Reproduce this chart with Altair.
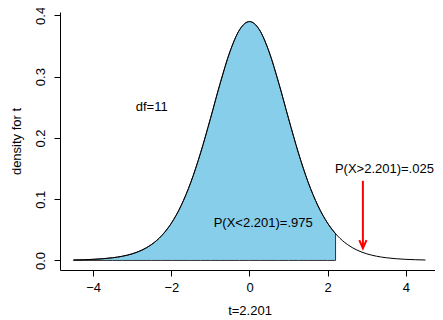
import altair as alt
import pandas as pd

# t-distribution (df = 11) density read at steps of 0.25
t_vals = [-4.5, -4.25, -4.0, -3.75, -3.5, -3.25, -3.0, -2.75, -2.5, -2.25, -2.0, -1.75,
          -1.5, -1.25, -1.0, -0.75, -0.5, -0.25, 0.0, 0.25, 0.5, 0.75, 1.0, 1.25, 1.5,
          1.75, 2.0, 2.25, 2.5, 2.75, 3.0, 3.25, 3.5, 3.75, 4.0, 4.25, 4.5]
dens = [0.00074, 0.00115, 0.00178, 0.00279, 0.00438, 0.00688, 0.01080, 0.01689, 0.02622,
        0.04023, 0.06065, 0.08934, 0.12768, 0.17578, 0.23138, 0.28914, 0.34081, 0.37696,
        0.39000, 0.37696, 0.34081, 0.28914, 0.23138, 0.17578, 0.12768, 0.08934, 0.06065,
        0.04023, 0.02622, 0.01689, 0.01080, 0.00688, 0.00438, 0.00279, 0.00178, 0.00115,
        0.00074]
cutoff_t = 2.201
cutoff_d = 0.04367

label_x = [-2.5, 0.35, 3.45]
label_y = [0.25, 0.0614, 0.15]
label_text = ["df=11", "P(X<2.201)=.975", "P(X>2.201)=.025"]

arrow_x = [2.9]
arrow_from = [0.13]
arrow_to = [0.02]

x_ticks = [-4, -2, 0, 2, 4]
y_ticks = [0.0, 0.1, 0.2, 0.3, 0.4]

curve = pd.DataFrame({"t": t_vals, "d": dens})
shade = pd.DataFrame({
    "t": [t for t in t_vals if t < cutoff_t] + [cutoff_t],
    "d": [d for t, d in zip(t_vals, dens) if t < cutoff_t] + [cutoff_d],
})
shade["base"] = 0.0
labels = pd.DataFrame({"x": label_x, "y": label_y, "text": label_text})
arrow = pd.DataFrame({"x": arrow_x, "y": arrow_from, "y2": arrow_to})

FONT = "Liberation Sans"
FS = 13
xs = alt.Scale(domain=[-4.846, 4.744], nice=False, zero=False)
ys = alt.Scale(domain=[-0.0156, 0.4056], nice=False, zero=False)

xaxis = alt.Axis(values=x_ticks, format="d", title="t=2.201", grid=False,
                 tickSize=6, labelPadding=11, labelBaseline="middle",
                 labelFontSize=FS, titleFontSize=FS, titleFontWeight="normal",
                 titleBaseline="middle", titleY=40, titleX=189.5, domainColor="black",
                 tickColor="black", labelColor="black", titleColor="black")
yaxis = alt.Axis(values=y_ticks, format=".1f", title="density for t", grid=False,
                 tickSize=6, labelPadding=14, labelAngle=270, labelAlign="center",
                 labelBaseline="middle", labelFontSize=FS, titleFontSize=FS,
                 titleFontWeight="normal", titleBaseline="middle", titleX=-44,
                 titleAngle=270, domainColor="black", tickColor="black",
                 labelColor="black", titleColor="black")

area = alt.Chart(shade).mark_area(
    fill="#87CEEB", stroke="#333333", strokeWidth=1, interpolate="monotone"
).encode(
    x=alt.X("t:Q", scale=xs, axis=xaxis),
    y=alt.Y("d:Q", scale=ys, axis=yaxis),
    y2="base:Q",
)

line = alt.Chart(curve).mark_line(color="black", strokeWidth=1, interpolate="monotone").encode(
    x=alt.X("t:Q", scale=xs),
    y=alt.Y("d:Q", scale=ys),
)

text = alt.Chart(labels).mark_text(fontSize=FS, font=FONT, align="center",
                                   baseline="middle", color="black").encode(
    x=alt.X("x:Q", scale=xs),
    y=alt.Y("y:Q", scale=ys),
    text="text:N",
)

arrow_line = alt.Chart(arrow).mark_rule(color="red", strokeWidth=2).encode(
    x=alt.X("x:Q", scale=xs),
    y=alt.Y("y:Q", scale=ys),
    y2="y2:Q",
)

arrow_head = alt.Chart(arrow).mark_point(
    shape="M-0.45,-1L0,0L0.45,-1", size=256, filled=False, color="red",
    strokeWidth=2, opacity=1
).encode(
    x=alt.X("x:Q", scale=xs),
    y=alt.Y("y2:Q", scale=ys),
)

chart = alt.layer(area, line, text, arrow_line, arrow_head).properties(
    width=375, height=258,
    autosize=alt.AutoSizeParams(type="none"),
    padding={"left": 52, "top": 4, "right": 0, "bottom": 50},
).configure(font=FONT).configure_view(stroke=None)

chart.save("out.html", embed_options={"renderer": "svg", "actions": False})
